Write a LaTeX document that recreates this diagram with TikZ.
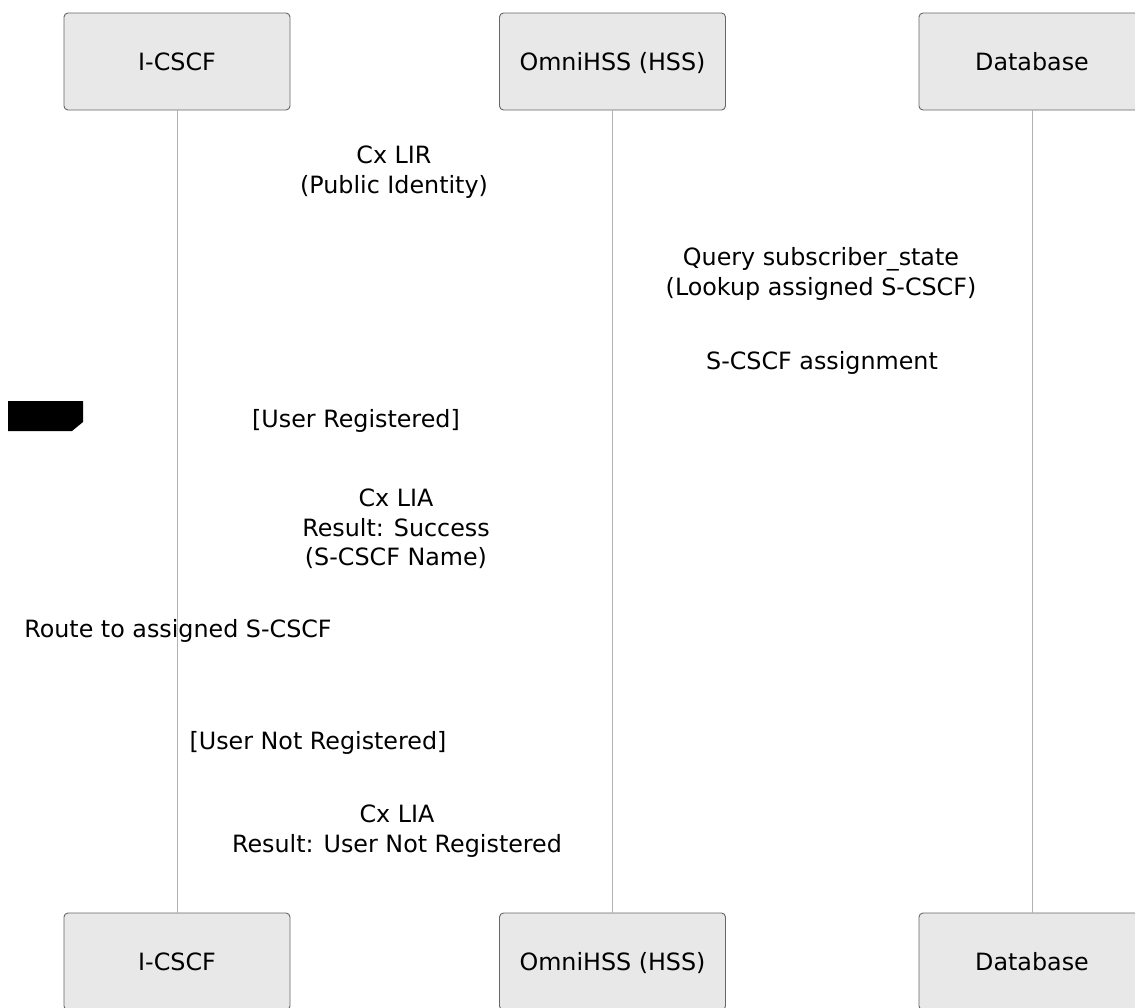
\documentclass[tikz,border=0pt]{standalone}
\usepackage{fontspec}
\setmainfont{DejaVu Sans}
\begin{document}
\begin{tikzpicture}[x=1pt,y=-1pt,
  actor/.style={draw=black!60, fill=black!9, rounded corners=4pt, line width=0.9pt,
    minimum width=226pt, minimum height=97pt, inner sep=0pt,
    text height=22pt, text depth=5pt,
    font=\fontsize{23.8}{29.5}\selectfont},
  lifeline/.style={draw=black!30, line width=0.9pt},
  msg/.style={align=center, inner sep=0pt, font=\fontsize{23.8}{29.5}\selectfont}]
\useasboundingbox (0,0) rectangle (1135,1007);
\clip (0,0) rectangle (1135,1007);
% actors
\node[actor] (it) at (177,61.5) {I-CSCF};
\node[actor] (ht) at (612.5,61.5) {OmniHSS (HSS)};
\node[actor] (dt) at (1032,61.5) {Database};
\node[actor] (ib) at (177,961.5) {I-CSCF};
\node[actor] (hb) at (612.5,961.5) {OmniHSS (HSS)};
\node[actor] (db) at (1032,961.5) {Database};
% lifelines
\draw[lifeline] (it.south) -- (ib.north);
\draw[lifeline] (ht.south) -- (hb.north);
\draw[lifeline] (dt.south) -- (db.north);
% alt label (black)
\fill[black] (8,401) -- (83,401) -- (83,422) -- (72,431) -- (8,431) -- cycle;
% message texts
\node[msg] (m1) at (394,172) {Cx LIR\\(Public Identity)};
\node[msg] (m2) at (821,274) {Query subscriber\_state\\(Lookup assigned S-CSCF)};
\node[msg] (m3) at (822,363) {S-CSCF assignment};
\node[msg] (m4) at (356,421) {[User Registered]};
\node[msg] (m5) at (396,529) {Cx LIA\\Result: Success\\(S-CSCF Name)};
\node[msg] (m6) at (178,631) {Route to assigned S-CSCF};
\node[msg] (m7) at (318,743) {[User Not Registered]};
\node[msg] (m8) at (397,831) {Cx LIA\\Result: User Not Registered};
\end{tikzpicture}
\end{document}
